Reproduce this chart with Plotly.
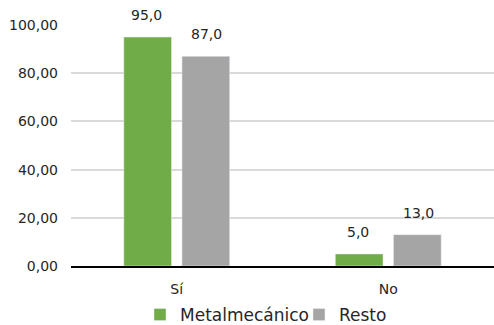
import plotly.graph_objects as go

categories = ["Sí", "No"]
metal = [95.0, 5.0]
resto = [87.0, 13.0]
yticks = [0, 20, 40, 60, 80, 100]

font = "DejaVu Sans"
txt = "#262626"
fig = go.Figure()
fig.add_bar(x=categories, y=metal, name="Metalmecánico", marker_color="#70AD47")
fig.add_bar(x=categories, y=resto, name="Resto", marker_color="#A5A5A5")

for vals, shift in ((metal, -30), (resto, 30)):
    for c, v in zip(categories, vals):
        fig.add_annotation(x=c, y=v, text=f"{v:.1f}".replace(".", ","), showarrow=False,
                           xshift=shift, yshift=22, yanchor="middle",
                           font=dict(size=14, color=txt, family=font))

fig.update_layout(
    width=494, height=325,
    margin=dict(l=71, r=0, t=25, b=59, autoexpand=False),
    plot_bgcolor="white", paper_bgcolor="white",
    separators=",.",
    font=dict(family=font, size=14, color=txt),
    barmode="group", bargap=0.45, bargroupgap=0.18,
    showlegend=True,
    legend=dict(orientation="h", xref="container", x=140/494, xanchor="left",
                yref="container", y=1 - 315/325, yanchor="middle",
                font=dict(size=17), itemwidth=30, entrywidth=114,
                traceorder="normal"),
    yaxis=dict(range=[0, 100], tickvals=yticks, tickformat=".2f",
               showgrid=True, gridcolor="#D9D9D9", gridwidth=1.5,
               zeroline=False, ticks="", showline=False, ticklabelstandoff=12),
    xaxis=dict(showline=True, linecolor="black", linewidth=2, ticks="",
               tickfont=dict(size=14), ticklabelstandoff=9),
)
fig.write_html("out.html", config={"displayModeBar": False},
               post_script="document.body.style.margin='0';")
